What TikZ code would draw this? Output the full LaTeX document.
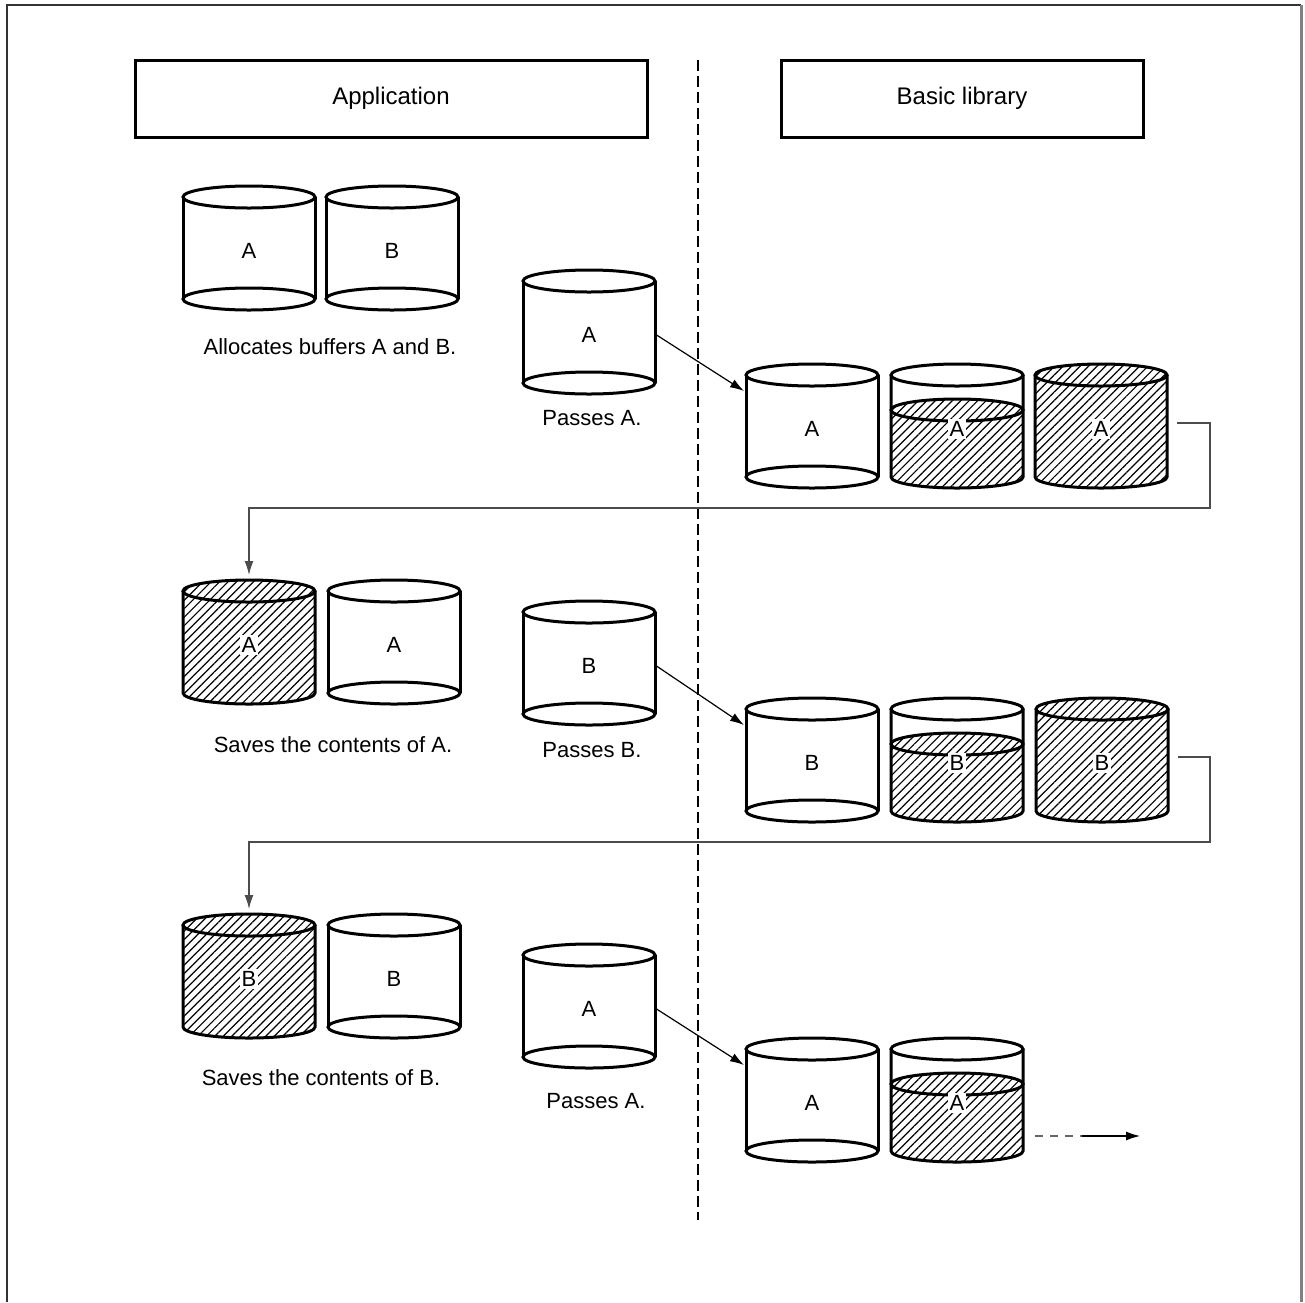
\documentclass[tikz,border=0pt]{standalone}
\usepackage{fontspec}
\setmainfont{Liberation Sans}
\usetikzlibrary{arrows.meta,patterns.meta}

% points every tank offers for the connectors
\newcommand\tankpoints{%
  \coordinate (-east) at (66,2);
  \coordinate (-in) at (-68,-35);
  \coordinate (-out) at (76,-3);
  \coordinate (-top) at (0,-67);}

\tikzset{
  rim/.style={line width=1.5pt},
  hatch/.style={pattern={Lines[angle=45,distance=3pt,line width=0.6pt]}},
  tanklabel/.style={fill=white,inner sep=1pt},
  head/.style={draw,line width=1.5pt,minimum height=38.5pt,font=\fontsize{12pt}{14pt}\selectfont},
  pass/.style={line width=0.6pt,-{Latex[length=7pt,width=4.5pt]}},
  back/.style={line width=0.7pt,black!70,-{Latex[length=7pt,width=4.5pt]}},
  % empty buffer
  pics/tank/.style={code={
    \draw[rim] (0,-51) ellipse (66 and 11);
    \draw[rim] (-66,-51) -- (-66,51) (66,-51) -- (66,51);
    \draw[rim] (0,51) ellipse (66 and 11);
    \node[tanklabel] (-lbl) at (0,3) {#1};
    \tankpoints}},
  % buffer being filled
  pics/halftank/.style={code={
    \fill[hatch] (-66,-16) -- (-66,51) arc (180:0:66 and 11) -- (66,-16)
      arc (0:-180:66 and 11) -- cycle;
    \draw[rim] (0,-51) ellipse (66 and 11);
    \draw[rim] (0,-16) ellipse (66 and 11);
    \draw[rim] (-66,-51) -- (-66,51) arc (180:0:66 and 11) -- (66,-51);
    \node[tanklabel] (-lbl) at (0,3) {#1};
    \tankpoints}},
  % full buffer
  pics/fulltank/.style={code={
    \fill[hatch] (-66,-51) -- (-66,51) arc (180:0:66 and 11) -- (66,-51)
      arc (0:-180:66 and 11) -- cycle;
    \draw[rim] (0,-51) ellipse (66 and 11);
    \draw[rim] (-66,-51) -- (-66,51) arc (180:0:66 and 11) -- (66,-51);
    \node[tanklabel] (-lbl) at (0,3) {#1};
    \tankpoints}},
}

\begin{document}
\begin{tikzpicture}[x=0.5pt,y=-0.5pt,every node/.style={font=\fontsize{11pt}{13pt}\selectfont}]
  \useasboundingbox (0,0) rectangle (1305,1302);
  % frame
  \draw[line width=1pt,black!80] (7,1302) -- (7,5) -- (1301,5);
  \draw[line width=1.5pt,black!50] (1301,5) -- (1301,1302);

  \node[head,minimum width=256pt] (app) at (391,98.5) {Application};
  \node[head,minimum width=181pt] (lib) at (962,98.5) {Basic library};
  \draw[line width=1pt,dash pattern=on 5.5pt off 2.5pt] (698,60) -- (698,1220);

  % first call
  \pic (a1a) at (249,248) {tank=A};
  \pic (a1b) at (392,248) {tank=B};
  \node (c1) at (330,347) {Allocates buffers A and B.};
  \pic (p1) at (589,332) {tank=A};
  \node (q1) at (592,418) {Passes A.};
  \pic (l1a) at (812,426) {tank=A};
  \pic (l1b) at (957,426) {halftank=A};
  \pic (l1c) at (1101,426) {fulltank=A};
  \draw[pass] (p1-east) -- (l1a-in);

  % second call
  \pic (a2a) at (249,642) {fulltank=A};
  \pic (a2b) at (394,642) {tank=A};
  \node (c2) at (333,745) {Saves the contents of A.};
  \pic (p2) at (589,663) {tank=B};
  \node (q2) at (592,750) {Passes B.};
  \pic (l2a) at (812,760) {tank=B};
  \pic (l2b) at (957,760) {halftank=B};
  \pic (l2c) at (1102,760) {fulltank=B};
  \draw[pass] (p2-east) -- (l2a-in);
  \coordinate (turn1) at (1210,508);
  \draw[back] (l1c-out) -| (turn1) -| (a2a-top);

  % third call
  \pic (a3a) at (249,976) {fulltank=B};
  \pic (a3b) at (394,976) {tank=B};
  \node (c3) at (321,1078) {Saves the contents of B.};
  \pic (p3) at (589,1006) {tank=A};
  \node (q3) at (596,1101) {Passes A.};
  \pic (l3a) at (812,1100) {tank=A};
  \pic (l3b) at (957,1100) {halftank=A};
  \draw[pass] (p3-east) -- (l3a-in);
  \coordinate (turn2) at (1210,842);
  \draw[back] (l2c-out) -| (turn2) -| (a3a-top);
  \coordinate (more) at (1035,1136);
  \coordinate (morehead) at (1082,1136);
  \coordinate (moreend) at (1140,1136);
  \draw[line width=0.7pt,black!60,dash pattern=on 4pt off 3.5pt] (more) -- (morehead);
  \draw[pass] (morehead) -- (moreend);
\end{tikzpicture}
\end{document}
